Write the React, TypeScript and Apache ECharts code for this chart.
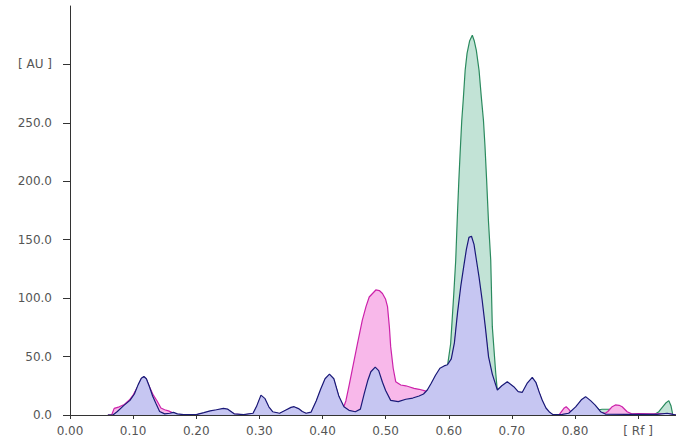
import React, { useEffect, useRef } from "react";
import * as echarts from "echarts";

// Tick labels
const xTicks = [0, 0.1, 0.2, 0.3, 0.4, 0.5, 0.6, 0.7, 0.8, 0.9];
const yTicks = [0, 50, 100, 150, 200, 250, 300];
const xUnitLabel = "[ Rf ]";
const yUnitLabel = "[ AU ]";

// Track 1 (green)
const greenTrack: [number, number][] = [
  [0.06, 0], [0.068, 0], [0.075, 2.5], [0.085, 7.5], [0.095, 12], [0.102, 17], [0.108, 25], [0.113, 30.5],
  [0.117, 32], [0.121, 30], [0.126, 23], [0.131, 15], [0.136, 9], [0.142, 2.5], [0.15, 0.5], [0.158, 1],
  [0.164, 1.7], [0.17, 0.5], [0.18, 0.1], [0.2, 0.1], [0.212, 1.5], [0.222, 3], [0.232, 4], [0.243, 5],
  [0.25, 4.5], [0.255, 2.5], [0.26, 0.6], [0.275, 0.1], [0.29, 1], [0.296, 7], [0.3025, 15.5], [0.309, 12.5],
  [0.315, 6], [0.321, 2.2], [0.332, 1], [0.342, 3.8], [0.35, 6], [0.355, 6.5], [0.362, 5], [0.368, 2.5],
  [0.374, 1], [0.382, 2], [0.39, 11], [0.397, 20.5], [0.404, 29.5], [0.411, 33.5], [0.418, 29.5], [0.426, 15],
  [0.434, 6], [0.442, 3.5], [0.452, 2.2], [0.46, 4], [0.466, 16.5], [0.472, 28.5], [0.4766, 35.5],
  [0.4835, 39.5], [0.489, 36.5], [0.495, 26.5], [0.5, 20], [0.508, 11.5], [0.52, 10.5], [0.532, 12.5],
  [0.543, 13.5], [0.553, 15.3], [0.56, 17], [0.566, 20.4], [0.572, 26], [0.579, 33], [0.586, 39],
  [0.5926, 41], [0.598, 42], [0.603, 61], [0.608, 104], [0.611, 132], [0.614, 175], [0.616, 201],
  [0.618, 224], [0.6206, 252], [0.623, 270], [0.626, 295], [0.629, 309.5], [0.633, 320], [0.6373, 325],
  [0.6405, 320], [0.6437, 312], [0.648, 295], [0.6516, 272], [0.655, 252], [0.6574, 230], [0.66, 201],
  [0.663, 165], [0.6665, 132.6], [0.669, 75.6], [0.6744, 36], [0.677, 20.4], [0.684, 24], [0.6927, 27.5],
  [0.703, 23.2], [0.71, 19], [0.7165, 18.4], [0.724, 26], [0.7323, 31.2], [0.738, 27], [0.743, 19],
  [0.748, 11.8], [0.754, 5], [0.759, 2], [0.765, 0.1], [0.78, 0.3], [0.79, 1], [0.801, 6], [0.81, 12],
  [0.8168, 14.7], [0.8247, 11.3], [0.832, 7.5], [0.838, 4.5], [0.843, 4.9], [0.86, 4.9], [0.865, 2],
  [0.87, 1], [0.9, 0.3], [0.925, 0.3], [0.9328, 2.8], [0.9434, 10], [0.9486, 12.3], [0.952, 8],
  [0.955, 0], [0.96, 0],
];

// Track 2 (pink)
const pinkTrack: [number, number][] = [
  [0.06, 0], [0.066, 0], [0.07, 5.7], [0.078, 7], [0.086, 9], [0.094, 12.8], [0.1, 17], [0.108, 25],
  [0.113, 31], [0.117, 32.5], [0.121, 30.5], [0.126, 24], [0.132, 17], [0.138, 12], [0.144, 6],
  [0.15, 4.5], [0.156, 3.5], [0.162, 2], [0.17, 0.5], [0.18, 0.2], [0.2, 0.2], [0.212, 1.5], [0.222, 3],
  [0.232, 4], [0.243, 5], [0.25, 4.5], [0.255, 2.5], [0.26, 0.8], [0.275, 0.2], [0.29, 1], [0.296, 7],
  [0.3025, 15.5], [0.309, 12.5], [0.315, 6], [0.321, 2.2], [0.332, 1], [0.342, 3.8], [0.35, 6],
  [0.355, 6.5], [0.362, 5], [0.368, 2.5], [0.374, 1], [0.382, 2], [0.39, 11], [0.397, 20.5],
  [0.404, 29.5], [0.411, 33.5], [0.418, 29.5], [0.426, 15], [0.432, 8], [0.434, 7.5], [0.437, 12],
  [0.442, 25], [0.447, 38.5], [0.455, 60], [0.463, 81], [0.469, 93], [0.474, 101], [0.4845, 107],
  [0.49, 106.5], [0.495, 104], [0.5, 99], [0.503, 92.7], [0.506, 75], [0.508, 58.5], [0.512, 40],
  [0.516, 28.5], [0.524, 25.7], [0.532, 25], [0.537, 24.2], [0.545, 22.8], [0.553, 22], [0.561, 20.8],
  [0.566, 20], [0.572, 25.5], [0.579, 32.5], [0.586, 38.5], [0.5926, 40.5], [0.598, 41.5], [0.604, 46],
  [0.609, 59], [0.614, 84], [0.619, 105], [0.624, 122], [0.628, 135], [0.632, 144], [0.636, 145],
  [0.64, 139], [0.644, 126], [0.648, 112], [0.653, 93], [0.658, 71], [0.663, 47], [0.669, 33],
  [0.677, 20], [0.684, 23.5], [0.6927, 27], [0.703, 23], [0.71, 19], [0.7165, 18.4], [0.724, 25.5],
  [0.7323, 30.5], [0.738, 26.5], [0.743, 19], [0.748, 11.5], [0.754, 5], [0.759, 2], [0.765, 0.2],
  [0.775, 0.3], [0.7824, 5.7], [0.786, 7.1], [0.79, 5], [0.793, 2.8], [0.8, 2], [0.801, 6], [0.81, 12],
  [0.8168, 14.5], [0.8247, 11.3], [0.832, 7.5], [0.8405, 2.2], [0.848, 1.5], [0.852, 3], [0.8589, 7.1],
  [0.864, 8.6], [0.87, 8.3], [0.8747, 7.1], [0.8826, 2.8], [0.89, 1], [0.9, 1.2], [0.92, 1], [0.95, 1],
  [0.96, 0],
];

// Track 3 (blue)
const blueTrack: [number, number][] = [
  [0.06, 0], [0.068, 0], [0.075, 3], [0.085, 8], [0.095, 12.5], [0.102, 18], [0.108, 26], [0.113, 31.5],
  [0.117, 33], [0.121, 31], [0.126, 24], [0.131, 16], [0.136, 10], [0.142, 3], [0.15, 1], [0.158, 1.5],
  [0.164, 2.2], [0.17, 1], [0.18, 0.3], [0.2, 0.3], [0.212, 2], [0.222, 3.5], [0.232, 4.5], [0.243, 5.7],
  [0.25, 5], [0.255, 3], [0.26, 1], [0.275, 0.3], [0.29, 1.5], [0.296, 8], [0.3025, 17], [0.309, 14],
  [0.315, 7], [0.321, 2.8], [0.332, 1.5], [0.342, 4.3], [0.35, 6.5], [0.355, 7.1], [0.362, 5.5],
  [0.368, 3], [0.374, 1.5], [0.382, 2.5], [0.39, 12], [0.397, 22], [0.404, 31], [0.411, 35], [0.418, 31],
  [0.426, 16], [0.434, 7], [0.442, 4], [0.452, 2.8], [0.46, 5], [0.466, 18], [0.472, 30], [0.4766, 37],
  [0.4835, 41], [0.489, 38], [0.495, 28], [0.5, 21], [0.508, 12.5], [0.52, 11.5], [0.532, 13.5],
  [0.543, 14.5], [0.553, 16.3], [0.56, 18], [0.566, 21.4], [0.572, 27], [0.579, 34], [0.586, 40],
  [0.5926, 42], [0.598, 43], [0.604, 48], [0.609, 62], [0.614, 88], [0.619, 110], [0.624, 128],
  [0.628, 142], [0.632, 152], [0.636, 153], [0.64, 146], [0.644, 132], [0.648, 118], [0.653, 98],
  [0.658, 75], [0.663, 50], [0.669, 35], [0.677, 21.4], [0.684, 25], [0.6927, 28.5], [0.703, 24.2],
  [0.71, 20], [0.7165, 19.4], [0.724, 27], [0.7323, 32.2], [0.738, 28], [0.743, 20], [0.748, 12.8],
  [0.754, 6], [0.759, 2.8], [0.765, 0.3], [0.78, 0.5], [0.79, 1.5], [0.801, 7], [0.81, 13],
  [0.8168, 15.7], [0.8247, 12.3], [0.832, 8.5], [0.8405, 2.8], [0.848, 0.8], [0.88, 0.5], [0.93, 0.5],
  [0.946, 1.5], [0.955, 0.5], [0.96, 0],
];

const labelFont = {
  color: "#555555",
  fontFamily: "DejaVu Sans",
  fontSize: 12,
};

export default function App() {
  const ref = useRef<HTMLDivElement>(null);
  useEffect(() => {
    if (!ref.current) return;
    const chart = echarts.init(ref.current, undefined, { renderer: "svg" });
    const mk = (data: [number, number][], line: string, fill: string, z: number) => ({
      type: "line",
      data,
      z,
      symbol: "none",
      showSymbol: false,
      smooth: false,
      lineStyle: { color: line, width: 1.2 },
      areaStyle: { color: fill, opacity: 1 },
      silent: true,
    });
    chart.setOption({
      animation: false,
      backgroundColor: "#ffffff",
      grid: { left: 70, right: 0, top: 6, bottom: 30, containLabel: false },
      xAxis: {
        type: "value",
        min: 0,
        max: 0.96,
        interval: 0.1,
        z: 10,
        splitLine: { show: false },
        axisLine: { show: true, lineStyle: { color: "#333333", width: 1 } },
        axisTick: { show: true, length: 4, lineStyle: { color: "#333333" }, customValues: xTicks },
        axisLabel: {
          ...labelFont,
          margin: 10,
          customValues: xTicks,
          formatter: (v: number) => (Math.abs(v - 0.9) < 1e-6 ? xUnitLabel : v.toFixed(2)),
        },
      },
      yAxis: {
        type: "value",
        min: 0,
        max: 350,
        interval: 50,
        z: 10,
        splitLine: { show: false },
        axisLine: { show: true, lineStyle: { color: "#333333", width: 1 } },
        axisTick: { show: true, length: 7, lineStyle: { color: "#333333" }, customValues: yTicks },
        axisLabel: {
          ...labelFont,
          margin: 18,
          customValues: yTicks,
          formatter: (v: number) => (v === 300 ? yUnitLabel : v.toFixed(1)),
        },
      },
      series: [
        mk(greenTrack, "#2a8a5e", "#c2e3d6", 2),
        mk(pinkTrack, "#cc22aa", "#f8b8ea", 3),
        mk(blueTrack, "#1a1a78", "#c6c6f2", 4),
      ],
    });
    return () => chart.dispose();
  }, []);
  return (
    <div
      ref={ref}
      style={{ position: "fixed", left: 0, top: 0, width: 676, height: 445 }}
    />
  );
}
